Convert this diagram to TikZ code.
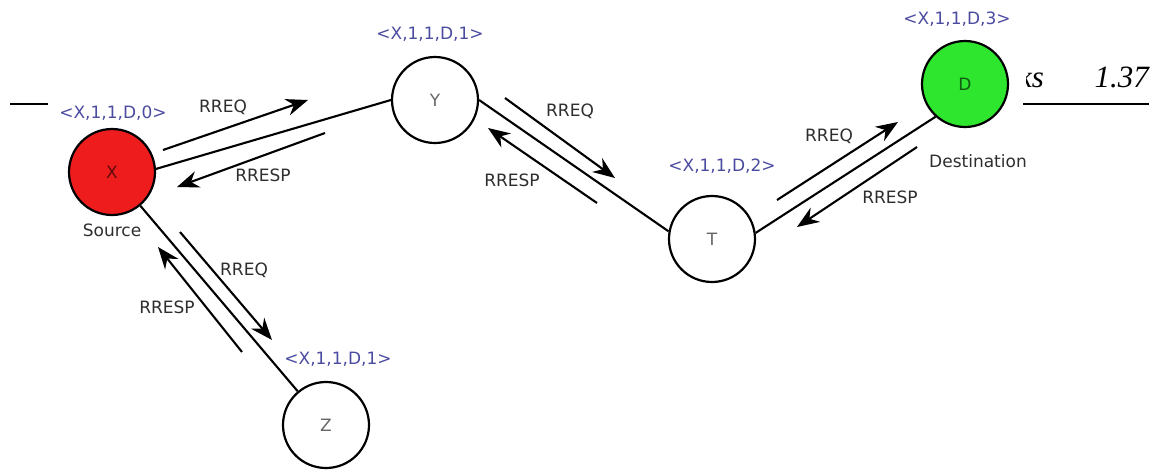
\documentclass[tikz,border=0pt]{standalone}
\usepackage{fontspec}
\setmainfont{DejaVu Sans}
\newfontfamily\pagefont{Liberation Serif}
\usepackage{tikz}
\usetikzlibrary{arrows.meta}
\definecolor{srcred}{HTML}{EE1C1C}
\definecolor{dstgreen}{HTML}{2EE62E}
\definecolor{tupleblue}{HTML}{4B4BA0}
\definecolor{msgink}{HTML}{2E2E2E}

\tikzset{
  peer/.style={circle,draw=black,line width=2.2pt,minimum size=86pt,
    inner sep=0pt,fill=white,font=\fontsize{17}{20}\selectfont,
    text=black,text opacity=0.6},
  tuple/.style={font=\fontsize{17}{20}\selectfont,text=tupleblue},
  msglabel/.style={font=\fontsize{17}{20}\selectfont,text=msgink},
  link/.style={line width=2.1pt},
  msg/.style={line width=2.1pt,-{Stealth[length=22pt,width=17pt]}},
}

\begin{document}
\begin{tikzpicture}[x=1pt,y=-1pt]
  \useasboundingbox (0,0) rectangle (1162,472);

  % running head of the page behind the figure
  \draw[line width=1.4pt] (10,104) -- (48,104);
  \draw[line width=1.4pt] (1023,104) -- (1149,104);
  \begin{scope}
    \clip (1026,40) rectangle (1100,100);
    \node[anchor=base west,inner sep=0pt,
      font=\pagefont\itshape\fontsize{31}{36}\selectfont] (headword) at (1018,87) {ks};
  \end{scope}
  \node[anchor=base east,inner sep=0pt,
    font=\pagefont\itshape\fontsize{31}{36}\selectfont] (pageno) at (1149,87) {1.37};

  % peers
  \node[peer,fill=srcred] (X) at (112,172) {X};
  \node[peer] (Y) at (435,100) {Y};
  \node[peer] (T) at (712,239) {T};
  \node[peer,fill=dstgreen] (D) at (965,84) {D};
  \node[peer] (Z) at (326,425) {Z};

  % hop tuples
  \node[tuple] (tupX) at (113,113) {<X,1,1,D,0>};
  \node[tuple] (tupY) at (430,34) {<X,1,1,D,1>};
  \node[tuple] (tupT) at (722,166) {<X,1,1,D,2>};
  \node[tuple] (tupD) at (957,19) {<X,1,1,D,3>};
  \node[tuple] (tupZ) at (338,359) {<X,1,1,D,1>};
  \node[msglabel] (srcname) at (112,230) {Source};
  \node[msglabel] (dstname) at (978,161) {Destination};

  % links
  \draw[link] (X.4) -- (Y.west);
  \draw[link] (Y.east) -- (T.170);
  \draw[link] (T.8) -- (D.228);
  \draw[link] (X.-50) -- (Z.130);

  % request / response messages
  \foreach \m/\sx/\sy/\ex/\ey in {xyreq/163/150/308/100, xyresp/325/133/177/187,
      ytreq/505/98/615/178, ytresp/597/203/488/128,
      tdreq/777/200/898/122, tdresp/917/147/797/227,
      xzreq/180/232/272/340, xzresp/242/352/158/247}{
    \coordinate (\m-s) at (\sx,\sy);
    \coordinate (\m-e) at (\ex,\ey);
    \draw[msg] (\m-s) -- (\m-e);
  }
  \foreach \t/\x/\y [count=\i] in {RREQ/223/107, RRESP/263/175,
      RREQ/570/111, RRESP/512/180, RREQ/829/136, RRESP/890/197,
      RREQ/244/270, RRESP/167/307}{
    \node[msglabel] (msg\i) at (\x,\y) {\t};
  }
\end{tikzpicture}
\end{document}
